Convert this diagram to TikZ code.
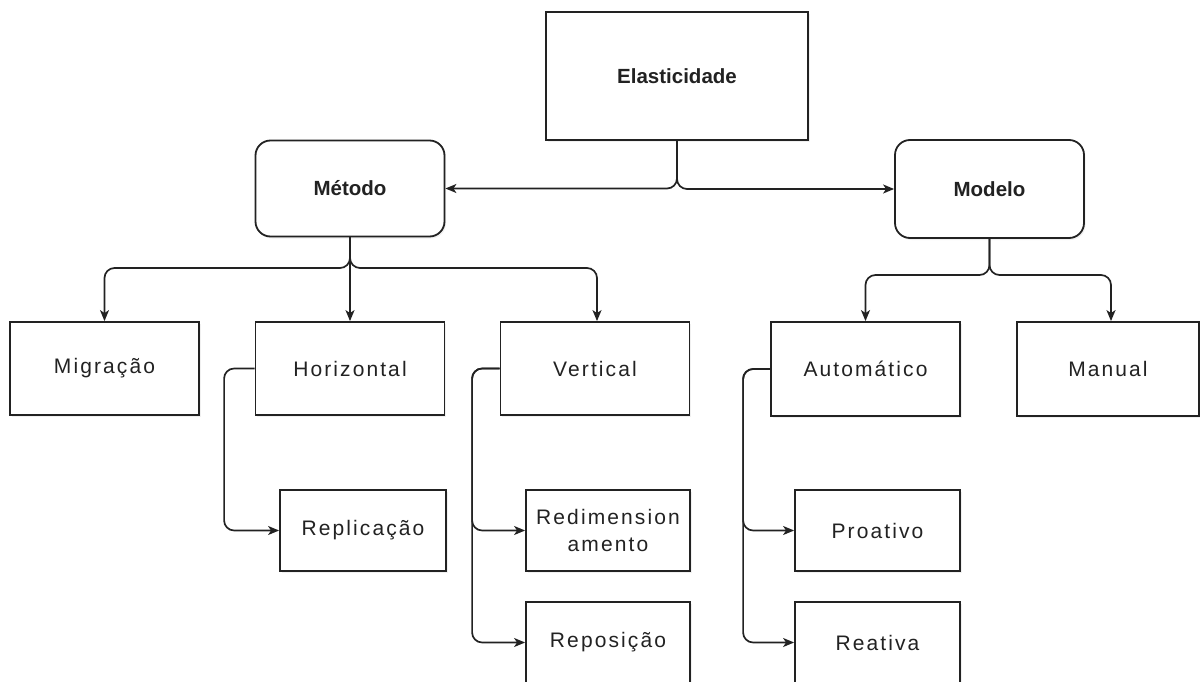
\documentclass[tikz,border=0pt]{standalone}
\usepackage{fontspec}
\setmainfont{Liberation Sans}
\newfontfamily\spaced[LetterSpace=10]{Liberation Sans}
\usetikzlibrary{arrows.meta,shadows}
\definecolor{ink}{HTML}{222222}
\tikzset{
  box/.style={draw=ink, line width=1.8pt, fill=white, inner sep=0pt,
    drop shadow={opacity=0.12, shadow xshift=1.5pt, shadow yshift=-2pt},
    text=ink, align=center},
  topbox/.style={box, font=\bfseries\fontsize{20.5}{24}\selectfont},
  leaf/.style={box, font=\spaced\fontsize{21}{26}\selectfont},
  conn/.style={draw=ink, line width=1.7pt, rounded corners=10pt,
    -{Stealth[length=11pt,width=9pt,inset=3pt]}}
}
\begin{document}
\begin{tikzpicture}[x=1pt,y=-1pt]
\useasboundingbox (0,0) rectangle (1200,682);
% top level
\node[topbox, minimum width=262pt, minimum height=128pt] (ela) at (677,76) {Elasticidade};
\node[topbox, rounded corners=15pt, minimum width=189pt, minimum height=96pt] (met) at (350,188.5) {Método};
\node[topbox, rounded corners=15pt, minimum width=189pt, minimum height=98pt] (mod) at (989.5,189) {Modelo};
% second level
\node[leaf, minimum width=189pt, minimum height=93pt] (mig) at (104.5,368.5) {Migração};
\node[leaf, minimum width=189pt, minimum height=93pt] (hor) at (350,368.5) {Horizontal};
\node[leaf, minimum width=189pt, minimum height=93pt] (ver) at (595,368.5) {Vertical};
\node[leaf, minimum width=189pt, minimum height=94pt] (aut) at (865.5,369) {Automático};
\node[leaf, minimum width=182pt, minimum height=94pt] (man) at (1108,369) {Manual};
% third level
\node[leaf, minimum width=166pt, minimum height=81pt] (rep) at (363,530.5) {Replicação};
\node[leaf, minimum width=164pt, minimum height=81pt, font=\spaced\fontsize{21}{27}\selectfont] (red) at (608,530.5) {Redimension\\amento};
\node[leaf, minimum width=164pt, minimum height=81pt] (rpo) at (608,642.5) {Reposição};
\node[leaf, minimum width=165pt, minimum height=81pt] (pro) at (877.5,530.5) {Proativo};
\node[leaf, minimum width=165pt, minimum height=81pt] (rea) at (877.5,642.5) {Reativa};
% junction points
\coordinate (mj) at (350,268);
\coordinate (dj) at (989.5,275);
% connectors from Elasticidade
\draw[conn] (ela.south) |- (met.east);
\draw[conn] (ela.south) |- (mod.west);
% connectors from Método
\draw[conn] (met.south) -- (mj) -| (mig.north);
\draw[conn] (met.south) -- (hor.north);
\draw[conn] (met.south) -- (mj) -| ([xshift=2pt]ver.north);
% connectors from Modelo
\draw[conn] (mod.south) -- (dj) -| (aut.north);
\draw[conn] (mod.south) -- (dj) -| ([xshift=3pt]man.north);
% side branches
\draw[conn] (hor.west) -| ([xshift=-55pt]rep.west) -- (rep.west);
\draw[conn] (ver.west) -| ([xshift=-53pt]red.west) -- (red.west);
\draw[conn] (ver.west) -| ([xshift=-53pt]rpo.west) -- (rpo.west);
\draw[conn] (aut.west) -| ([xshift=-51pt]pro.west) -- (pro.west);
\draw[conn] (aut.west) -| ([xshift=-51pt]rea.west) -- (rea.west);
\end{tikzpicture}
\end{document}
